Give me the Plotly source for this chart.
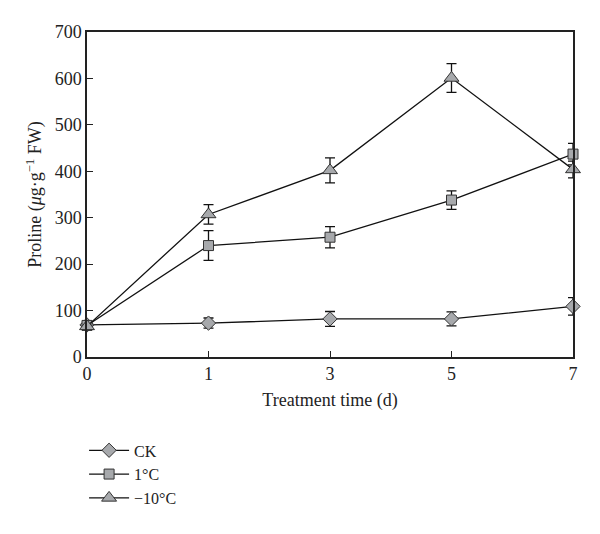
import plotly.graph_objects as go

days = ["0", "1", "3", "5", "7"]
ck = [69, 73, 82, 82, 109]
ck_err = [0, 11, 16, 15, 19]
t1 = [68, 240, 258, 338, 437]
t1_err = [0, 32, 23, 20, 23]
t10 = [66, 307, 402, 601, 404]
t10_err = [0, 21, 27, 31, 18]
y_ticks = [0, 100, 200, 300, 400, 500, 600, 700]

pos = list(range(len(days)))
font = "Liberation Serif, Times New Roman, serif"
mfill = "#a7a9ac"
mline = "#333333"

fig = go.Figure()
series = [
    ("CK", ck, ck_err, "diamond", 11),
    ("1°C", t1, t1_err, "square", 10),
    ("−10°C", t10, t10_err, "triangle-up", 13),
]
for name, ys, es, sym, sz in series:
    fig.add_trace(go.Scatter(
        x=pos, y=ys, name=name, mode="lines+markers",
        line=dict(color="#111111", width=1.3),
        marker=dict(symbol=sym, size=sz, color=mfill, line=dict(color=mline, width=1)),
        error_y=dict(type="data", array=es, visible=True, color="#111111", thickness=1.3, width=5),
    ))

fig.update_layout(
    width=592, height=526,
    margin=dict(l=79, r=27, t=24, b=177, autoexpand=False),
    paper_bgcolor="white", plot_bgcolor="white",
    font=dict(family=font, size=18, color="#222222"),
    showlegend=True,
    legend=dict(x=-0.006, y=-0.235, xanchor="left", yanchor="top",
                font=dict(family=font, size=16, color="#222222"),
                tracegroupgap=0, itemwidth=40, bgcolor="rgba(0,0,0,0)"),
    xaxis=dict(
        range=[0, 4], tickvals=pos, ticktext=days,
        showline=True, linecolor="#222222", linewidth=1.5, mirror=True,
        ticks="inside", ticklen=6, tickcolor="#222222", showgrid=False, zeroline=False,
        title=dict(text="Treatment time (d)", font=dict(family=font, size=18), standoff=10),
    ),
    yaxis=dict(
        range=[0, 700], tickvals=y_ticks,
        showline=True, linecolor="#222222", linewidth=1.5, mirror=True,
        ticks="inside", ticklen=6, tickcolor="#222222", showgrid=False, zeroline=False,
        title=dict(text="Proline (<i>μ</i>g·g<sup>−1</sup> FW)", font=dict(family=font, size=18), standoff=8),
    ),
)
fig.update_traces(cliponaxis=False)
fig.write_html("out.html")
